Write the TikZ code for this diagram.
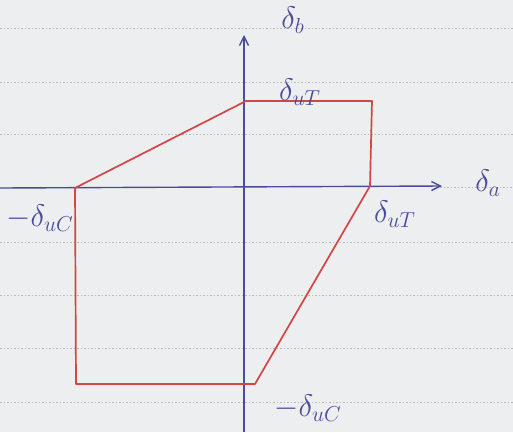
\documentclass[tikz,border=0pt]{standalone}
\usetikzlibrary{arrows.meta}
\definecolor{paper}{HTML}{ECEEF0}
\definecolor{pen}{HTML}{4A4C9A}
\definecolor{redpen}{HTML}{D44545}
\newcommand{\biglbl}[1]{\scalebox{1.8}{$#1$}}
\tikzset{
  axis/.style={draw=pen, line width=1.4pt, -{Straight Barb[length=9pt,width=9pt]}},
  region/.style={draw=redpen, line width=1.7pt, line join=round},
  lbl/.style={text=pen, font=\LARGE, inner sep=1pt},
  ruled/.style={draw=gray!55, line width=0.7pt, dash pattern=on 1.5pt off 2pt}
}
\begin{document}
\begin{tikzpicture}[x=1pt,y=-1pt]
\fill[paper] (0,0) rectangle (513,432);
\useasboundingbox (0,0) rectangle (513,432);
% ruled lines of the paper
\foreach \yy in {28,82,134,242,295,348,402}
  \draw[ruled] (0,\yy) -- (513,\yy);
\draw[ruled] (440,187) -- (513,187);
% axes
\coordinate (xl) at (0,188);
\coordinate (xr) at (442,186);
\coordinate (yb) at (244,432);
\coordinate (yt) at (244,35);
\draw[axis] (xl) -- (xr);
\draw[axis] (yb) -- (yt);
% region vertices
\coordinate (A) at (75,188);
\coordinate (B) at (246,101);
\coordinate (C) at (372,101);
\coordinate (D) at (370,186);
\coordinate (E) at (255,384);
\coordinate (F) at (76,384);
\draw[region] (A) -- (B) -- (C) -- (D) -- (E) -- (F) -- cycle;
% labels
\node[lbl] (lb) at (293,20) {\biglbl{\delta_b}};
\node[lbl] (la) at (488,183) {\biglbl{\delta_a}};
\node[lbl] (ltop) at (300,92) {\biglbl{\delta_{uT}}};
\node[lbl] (lright) at (395,214) {\biglbl{\delta_{uT}}};
\node[lbl] (lleft) at (40,218) {\biglbl{-\delta_{uC}}};
\node[lbl] (lbot) at (308,408) {\biglbl{-\delta_{uC}}};
\end{tikzpicture}
\end{document}
